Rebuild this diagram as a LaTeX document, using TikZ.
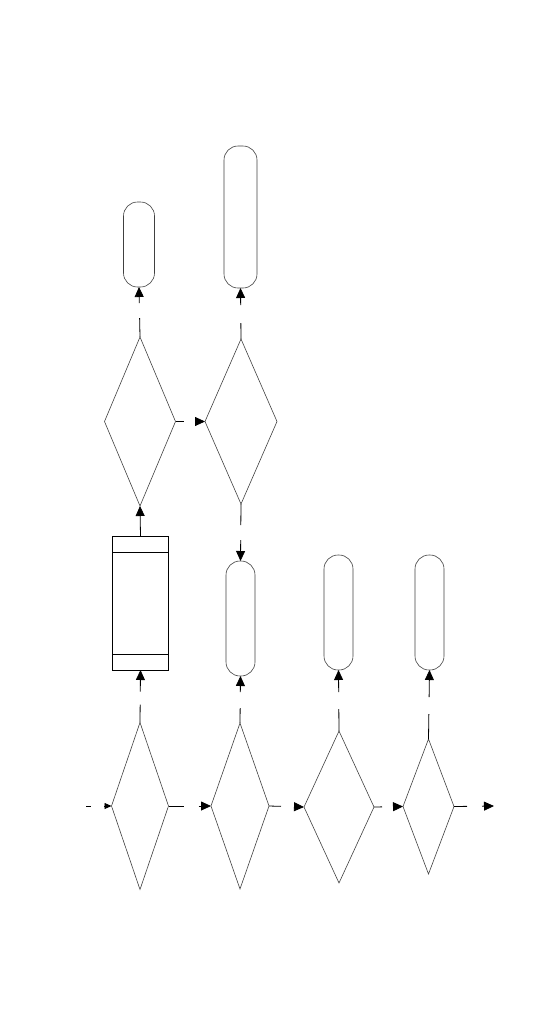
\documentclass[tikz,border=0pt]{standalone}
\usetikzlibrary{shapes.geometric}
\usetikzlibrary{arrows.meta}
\usetikzlibrary{calc}
\tikzset{
  decision/.style={draw=black!75, diamond, inner sep=0pt, outer sep=0pt, line width=0.6pt},
  term/.style={draw=black!75, rectangle, rounded corners=14pt, inner sep=0pt, outer sep=0pt, line width=0.6pt},
  procbox/.style={draw, rectangle, inner sep=0pt, outer sep=0pt, line width=0.8pt},
  flow/.style={line width=0.8pt, -{Triangle[length=10pt,width=9pt]}},
  smallflow/.style={line width=0.8pt, -{Triangle[length=7pt,width=6pt]}},
  brk/.style 2 args={dash pattern=on #1 off #2 on 400pt},
}

\begin{document}
\begin{tikzpicture}[x=1pt,y=-1pt]
  \useasboundingbox (0,0) rectangle (540,1026);
  % bottom row
  \node[decision, minimum width=57pt, minimum height=167pt] (d1) at (140,806) {};
  \node[decision, minimum width=58pt, minimum height=166pt] (d2) at (240,806) {};
  \node[decision, minimum width=70pt, minimum height=152pt] (d3) at (339,807) {};
  \node[decision, minimum width=51pt, minimum height=135pt] (d4) at (428.5,806.5) {};
  \coordinate (in) at (86,806);
  \coordinate (out) at (494,806);
  % middle row
  \node[procbox, minimum width=56pt, minimum height=134pt] (proc) at (140.5,603) {};
  \draw[line width=0.8pt] ($(proc.north west)+(0,16)$) -- ($(proc.north east)+(0,16)$);
  \draw[line width=0.8pt] ($(proc.south west)+(0,-16)$) -- ($(proc.south east)+(0,-16)$);
  \node[term, minimum width=29pt, minimum height=115pt] (tb2) at (240.5,618.5) {};
  \node[term, minimum width=29pt, minimum height=115pt] (tb3) at (338.5,612.5) {};
  \node[term, minimum width=29pt, minimum height=115pt] (tb4) at (429.5,612.5) {};
  % upper row
  \node[decision, minimum width=71pt, minimum height=169pt] (u1) at (140,421.5) {};
  \node[decision, minimum width=72pt, minimum height=165pt] (u2) at (241,421.5) {};
  \node[term, minimum width=31pt, minimum height=85pt] (t1) at (139,244.5) {};
  \node[term, minimum width=33pt, minimum height=142pt] (t2) at (240.5,217) {};

  % connectors
  \draw[smallflow, brk={5pt}{13pt}] (in) -- (d1.west);
  \draw[flow, brk={15pt}{15pt}] (d1.east) -- (d2.west);
  \draw[flow, brk={12pt}{14pt}] (d2.east) -- (d3.west);
  \draw[flow, brk={8pt}{12pt}] (d3.east) -- (d4.west);
  \draw[flow, brk={13pt}{15pt}] (d4.east) -- (out);
  \draw[flow, brk={18pt}{13pt}] (d1.north) -- (proc.south);
  \draw[flow, brk={15pt}{16pt}] (d2.north) -- (tb2.south);
  \draw[flow, brk={22pt}{17pt}] (d3.north) -- (tb3.south);
  \draw[flow, brk={25pt}{17pt}] (d4.north) -- (tb4.south);
  \draw[flow] (proc.north) -- (u1.south);
  \draw[flow, brk={8pt}{14pt}] (u1.east) -- (u2.west);
  \draw[flow, brk={21pt}{15pt}] (u2.south) -- (tb2.north);
  \draw[flow, brk={19pt}{15pt}] (u1.north) -- (t1.south);
  \draw[flow, brk={16pt}{18pt}] (u2.north) -- (t2.south);
\end{tikzpicture}
\end{document}
